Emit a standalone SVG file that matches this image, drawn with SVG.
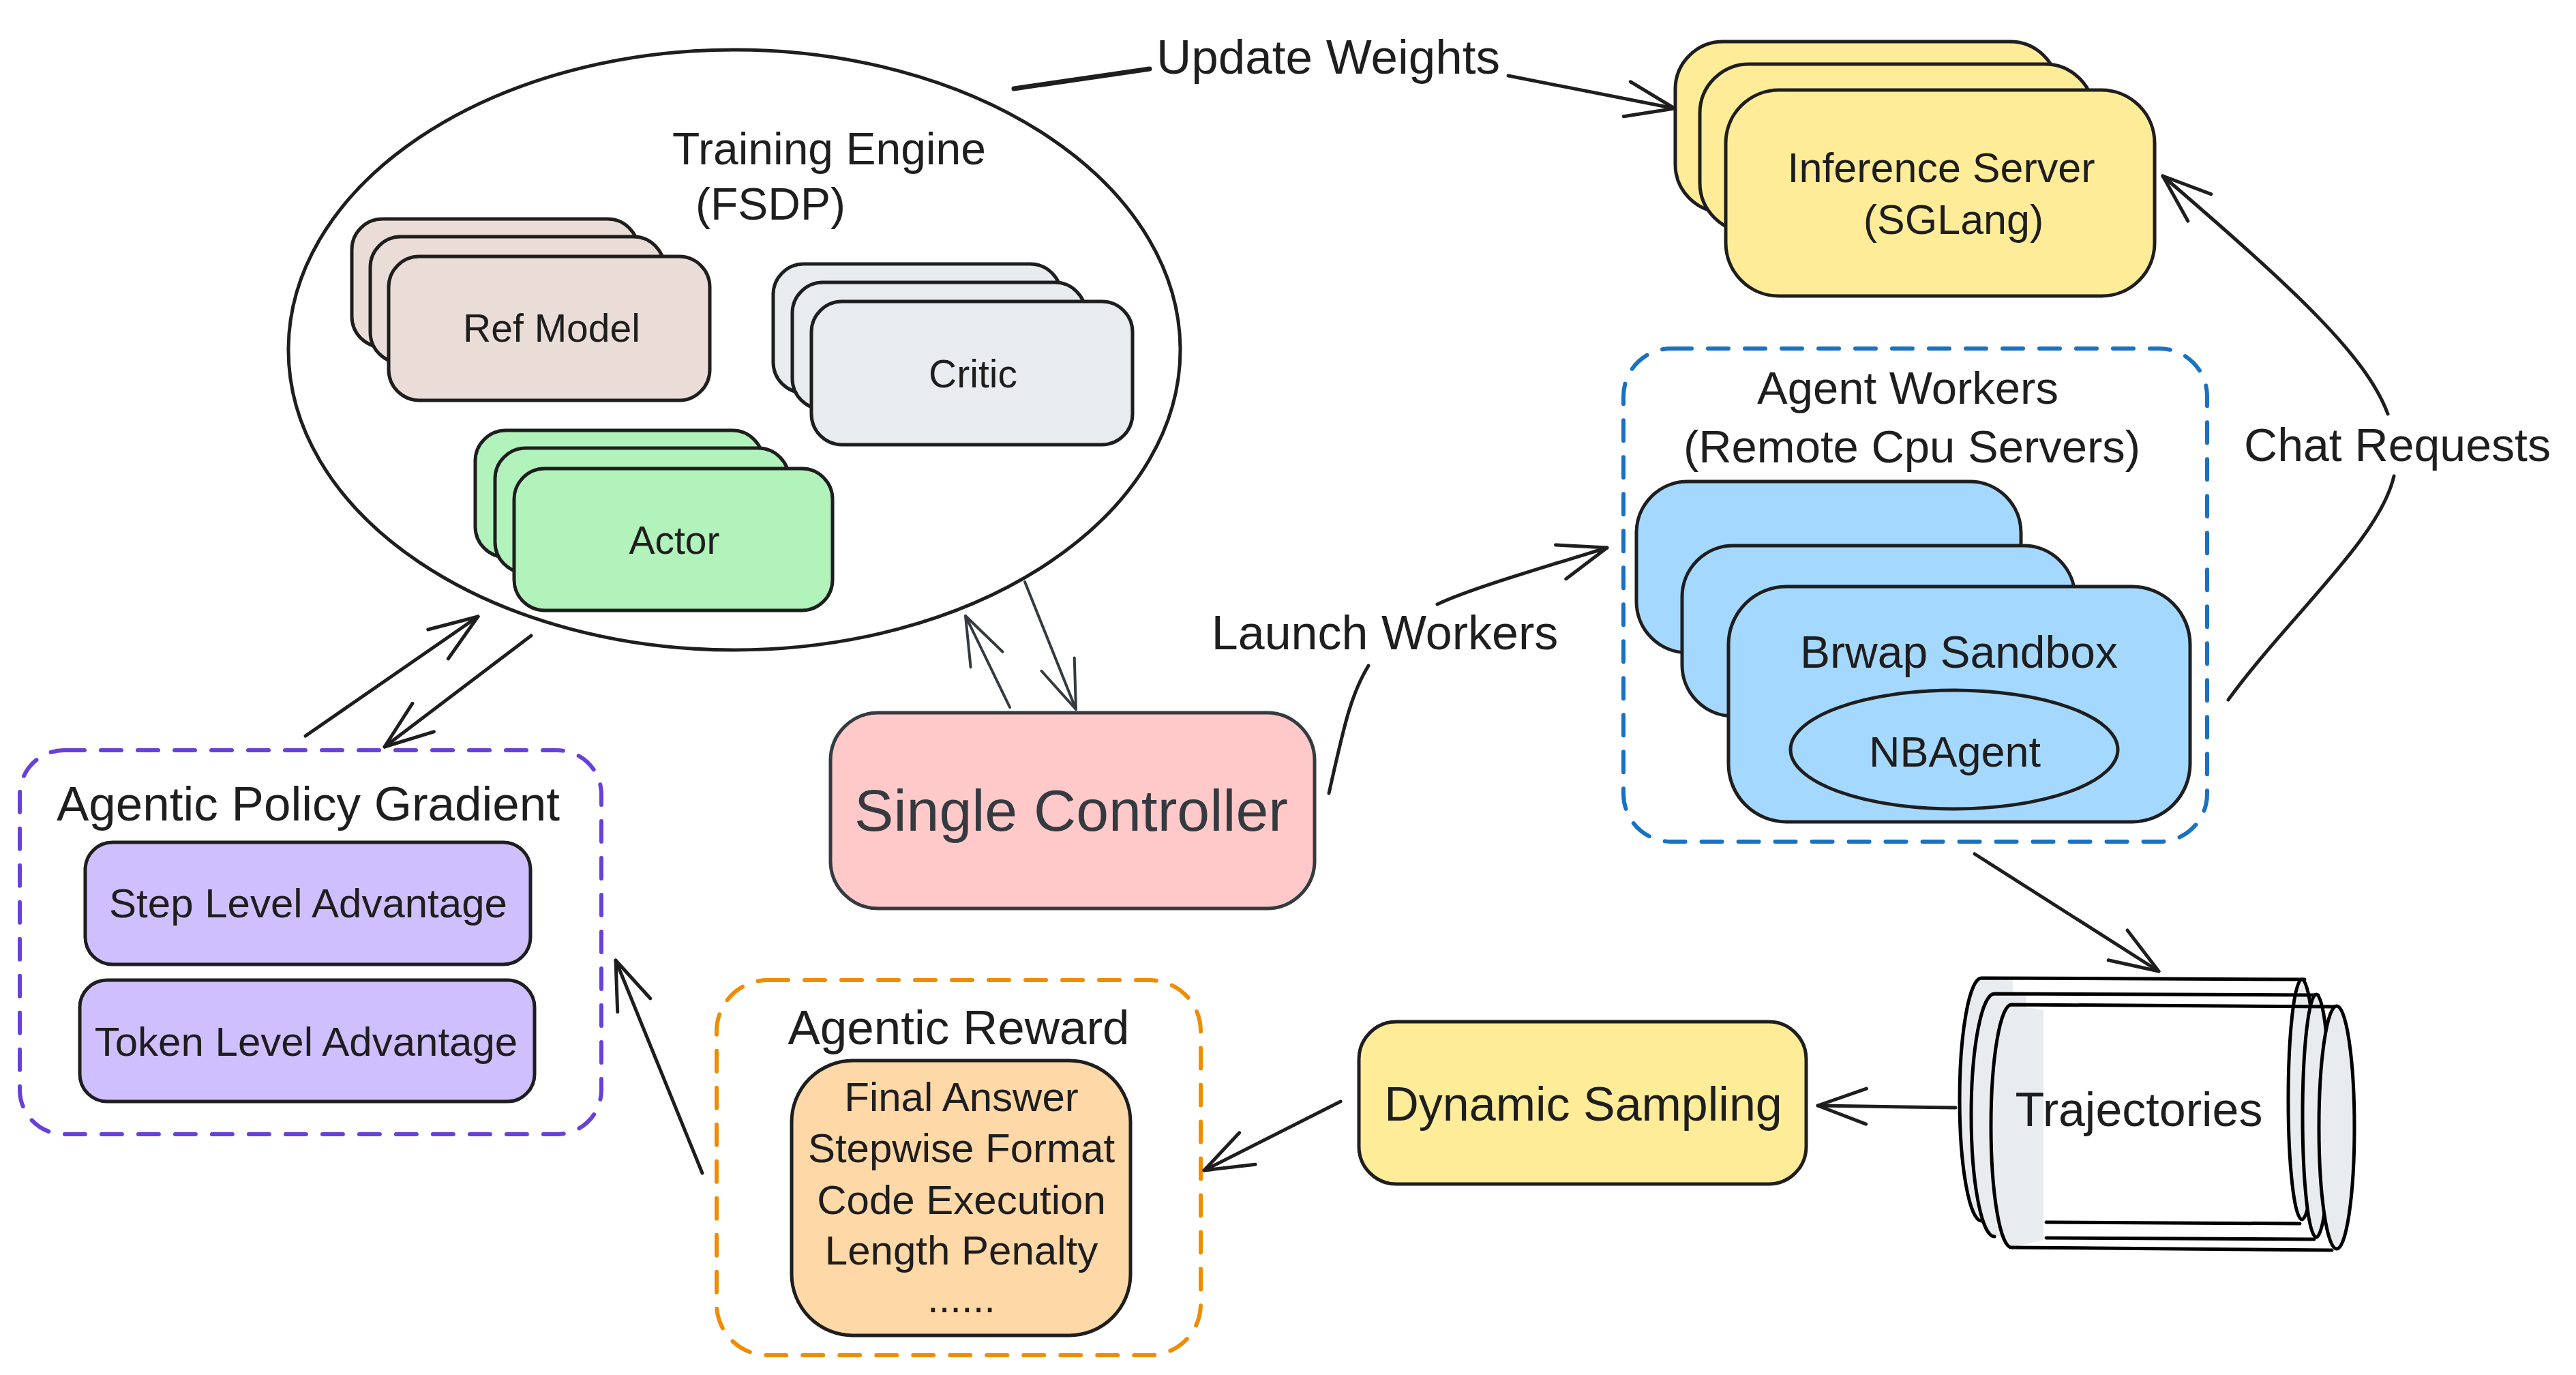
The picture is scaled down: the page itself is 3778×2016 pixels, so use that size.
<svg xmlns="http://www.w3.org/2000/svg" width="3778" height="2016" viewBox="0 0 3778 2016">
<defs>
<style>
.t{font-family:"Liberation Sans",Arial,sans-serif;fill:#1e1e1e;text-anchor:middle;dominant-baseline:central}
.b{stroke:#1e1e1e;stroke-width:5}
.c{fill:none;stroke:#1e1e1e;stroke-width:5;stroke-linecap:round;stroke-linejoin:round}
.c2{fill:none;stroke:#343a40;stroke-width:4;stroke-linecap:round;stroke-linejoin:round}
.d{fill:none;stroke-width:6;stroke-dasharray:30 24;stroke-linecap:round}
.ref{fill:#eaddd7}.cri{fill:#e9ecef}.act{fill:#b2f2bb}.inf{fill:#ffec99}.brw{fill:#a5d8ff}.pur{fill:#d0bfff}
.tg{fill:#e9ecef;stroke:none}
.ts{fill:none;stroke:#000;stroke-width:5;stroke-linecap:round}
</style>
<marker id="ah" markerUnits="userSpaceOnUse" markerWidth="10" markerHeight="10" refX="0" refY="0" orient="auto" overflow="visible"><path d="M-71,-26 L0,0 L-71,26" fill="none" stroke="#1e1e1e" stroke-width="5" stroke-linecap="round" stroke-linejoin="round"/></marker>
<marker id="ah2" markerUnits="userSpaceOnUse" markerWidth="10" markerHeight="10" refX="0" refY="0" orient="auto" overflow="visible"><path d="M-71,-26 L0,0 L-71,26" fill="none" stroke="#343a40" stroke-width="4" stroke-linecap="round" stroke-linejoin="round"/></marker>
</defs>
<rect width="3778" height="2016" fill="#ffffff"/>

<g id="training-engine">
<ellipse cx="1077" cy="513" rx="654" ry="440" fill="none" stroke="#1e1e1e" stroke-width="5"/>
<text class="t" x="1216" y="218" font-size="66">Training Engine</text>
<text class="t" x="1130" y="299" font-size="66">(FSDP)</text>
</g>

<g id="ref-model">
<rect class="b ref" x="516" y="321" width="420" height="188" rx="45"/>
<rect class="b ref" x="543" y="347" width="431" height="185" rx="45"/>
<rect class="b ref" x="570" y="376" width="471" height="211" rx="45"/>
<text class="t" x="809" y="481" font-size="57">Ref Model</text>
</g>

<g id="critic">
<rect class="b cri" x="1134" y="387" width="422" height="189" rx="45"/>
<rect class="b cri" x="1162" y="414" width="430" height="186" rx="45"/>
<rect class="b cri" x="1190" y="442" width="471" height="210" rx="45"/>
<text class="t" x="1427" y="548" font-size="57">Critic</text>
</g>

<g id="actor">
<rect class="b act" x="697" y="631" width="422" height="186" rx="45"/>
<rect class="b act" x="726" y="657" width="431" height="183" rx="45"/>
<rect class="b act" x="754" y="687" width="467" height="208" rx="45"/>
<text class="t" x="989" y="792" font-size="57">Actor</text>
</g>

<g id="inference-server">
<rect class="b inf" x="2457" y="61" width="561" height="250" rx="70"/>
<rect class="b inf" x="2493" y="94" width="578" height="246" rx="72"/>
<rect class="b inf" x="2531" y="132" width="629" height="302" rx="78"/>
<text class="t" x="2847" y="246" font-size="61">Inference Server</text>
<text class="t" x="2865" y="322" font-size="61">(SGLang)</text>
</g>

<g id="agent-workers">
<rect class="d" x="2381" y="511" width="856" height="723" rx="70" stroke="#1971c2"/>
<text class="t" x="2798" y="568" font-size="67">Agent Workers</text>
<text class="t" x="2804" y="654" font-size="67">(Remote Cpu Servers)</text>
<rect class="b brw" x="2400" y="706" width="564" height="251" rx="75"/>
<rect class="b brw" x="2467" y="800" width="576" height="250" rx="75"/>
<rect class="b brw" x="2535" y="860" width="677" height="345" rx="85"/>
<text class="t" x="2873" y="956" font-size="66">Brwap Sandbox</text>
</g>

<g id="nbagent">
<ellipse cx="2866" cy="1099" rx="240" ry="87" fill="#a5d8ff" stroke="#1e1e1e" stroke-width="5"/>
<text class="t" x="2867" y="1102" font-size="63">NBAgent</text>
</g>

<g id="single-controller">
<rect x="1218" y="1045" width="710" height="287" rx="70" fill="#ffc9c9" stroke="#343a40" stroke-width="5"/>
<text class="t" x="1571" y="1188" font-size="86" style="fill:#343a40">Single Controller</text>
</g>

<g id="agentic-policy-gradient">
<rect class="d" x="29" y="1100" width="853" height="563" rx="65" stroke="#6741d9"/>
<text class="t" x="452" y="1178" font-size="71">Agentic Policy Gradient</text>
<rect class="b pur" x="125" y="1235" width="653" height="179" rx="40"/>
<text class="t" x="452" y="1324" font-size="60">Step Level Advantage</text>
<rect class="b pur" x="117" y="1437" width="667" height="178" rx="40"/>
<text class="t" x="449" y="1527" font-size="60">Token Level Advantage</text>
</g>

<g id="agentic-reward">
<rect class="d" x="1051" y="1437" width="710" height="550" rx="75" stroke="#f08c00"/>
<text class="t" x="1406" y="1506" font-size="71">Agentic Reward</text>
<rect x="1161" y="1555" width="497" height="403" rx="90" fill="#ffd8a8" stroke="#1e1e1e" stroke-width="5"/>
<text class="t" x="1410" y="1608" font-size="60">Final Answer</text>
<text class="t" x="1410" y="1683" font-size="60">Stepwise Format</text>
<text class="t" x="1410" y="1759" font-size="60">Code Execution</text>
<text class="t" x="1410" y="1833" font-size="60">Length Penalty</text>
<text class="t" x="1410" y="1903" font-size="60">......</text>
</g>

<g id="dynamic-sampling">
<rect x="1993" y="1498" width="656" height="238" rx="55" fill="#ffec99" stroke="#1e1e1e" stroke-width="5"/>
<text class="t" x="2322" y="1619" font-size="70">Dynamic Sampling</text>
</g>

<g id="trajectories">
<path class="tg" d="M2906,1434 A32,178 0 0 0 2906,1790 L2952,1790 L2952,1434 Z"/>
<path class="ts" d="M2906,1434 A32,178 0 0 0 2906,1790 M2906,1434 L3380,1436 M3001,1792 L3373,1794"/>
<ellipse cx="3376" cy="1612" rx="20" ry="176" fill="#e9ecef" stroke="#000" stroke-width="5"/>
<path class="tg" d="M2925,1457 A34,178 0 0 0 2925,1813 L2972,1813 L2972,1457 Z"/>
<path class="ts" d="M2925,1457 A34,178 0 0 0 2925,1813 M2925,1457 L3400,1459 M3001,1815 L3394,1817"/>
<ellipse cx="3397" cy="1636" rx="20" ry="178" fill="#e9ecef" stroke="#000" stroke-width="5"/>
<path class="tg" d="M2950,1473 A30,178 0 0 0 2950,1829 L2997,1818 L2997,1481 Z"/>
<path class="ts" d="M2950,1473 A30,178 0 0 0 2950,1829 M2950,1473 L3425,1476 M2950,1829 L3420,1833"/>
<ellipse cx="3427" cy="1653" rx="26" ry="178" fill="#e9ecef" stroke="#000" stroke-width="5"/>
<text class="t" x="3137" y="1627" font-size="70">Trajectories</text>
</g>

<g id="connectors">
<path d="M1487,130 L1686,101" fill="none" stroke="#1e1e1e" stroke-width="7" stroke-linecap="round"/>
<path class="c" d="M2212,111 L2456,159" marker-end="url(#ah)"/>
<text class="t" x="1948" y="83" font-size="71">Update Weights</text>

<path class="c" d="M3268,1026 C3360,900 3490,790 3511,698"/>
<path class="c" d="M3502,607 C3470,520 3360,420 3172,258" marker-end="url(#ah)"/>
<text class="t" x="3516" y="652" font-size="68">Chat Requests</text>

<path class="c" d="M1949,1163 C1970,1070 1980,1020 2007,976"/>
<path class="c" d="M2108,886 C2150,866 2230,842 2357,803" marker-end="url(#ah)"/>
<text class="t" x="2031" y="928" font-size="70">Launch Workers</text>

<path class="c2" d="M1503,853 L1578,1040" marker-end="url(#ah2)"/>
<path class="c2" d="M1481,1037 L1416,903" marker-end="url(#ah2)"/>

<path class="c" d="M448,1079 L701,904" marker-end="url(#ah)"/>
<path class="c" d="M779,932 L564,1095" marker-end="url(#ah)"/>

<path class="c" d="M1030,1720 L903,1408" marker-end="url(#ah)"/>
<path class="c" d="M1966,1615 L1766,1716" marker-end="url(#ah)"/>
<path class="c" d="M2868,1624 L2666,1621" marker-end="url(#ah)"/>
<path class="c" d="M2896,1252 L3166,1424" marker-end="url(#ah)"/>
</g>
</svg>
